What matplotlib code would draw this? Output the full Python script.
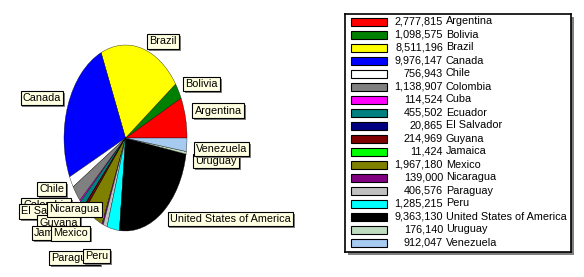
import matplotlib
matplotlib.use('Agg')
import matplotlib.pyplot as plt
import matplotlib.patheffects as pe
from matplotlib.patches import Rectangle
import numpy as np

# area (km2) of the countries of the Americas
countries = ['Argentina', 'Bolivia', 'Brazil', 'Canada', 'Chile', 'Colombia', 'Cuba',
             'Ecuador', 'El Salvador', 'Guyana', 'Jamaica', 'Mexico', 'Nicaragua',
             'Paraguay', 'Peru', 'United States of America', 'Uruguay', 'Venezuela']
areas = [2777815, 1098575, 8511196, 9976147, 756943, 1138907, 114524,
         455502, 20865, 214969, 11424, 1967180, 139000,
         406576, 1285215, 9363130, 176140, 912047]
colors = ['#ff0000', '#008000', '#ffff00', '#0000ff', '#ffffff', '#808080', '#ff00ff',
          '#008080', '#000080', '#800000', '#00ff00', '#808000', '#800080',
          '#c0c0c0', '#00ffff', '#000000', '#c0dcc0', '#a6caf0']

# extra shift (pixels, right / down) for the crowded labels
label_nudge = {
    'Colombia': (0, 4), 'Cuba': (0, 4), 'El Salvador': (0, -2),
    'Guyana': (0, 8), 'Jamaica': (-4, 17), 'Mexico': (1, 9),
    'Nicaragua': (4, -22), 'Paraguay': (0, 25), 'Peru': (2, 20),
    'Venezuela': (2, -3), 'Uruguay': (2, 1), 'Argentina': (2, 0),
}

W, H = 584, 277
plt.rcParams['font.family'] = ['Liberation Sans', 'DejaVu Sans']
plt.rcParams['font.size'] = 7.8
fig = plt.figure(figsize=(W / 100, H / 100), dpi=100)


def px_rect(x0, y0, x1, y1):
    return [x0 / W, 1 - y1 / H, (x1 - x0) / W, (y1 - y0) / H]


# pie (stretched into an ellipse)
ax = fig.add_axes(px_rect(64, 45, 187, 231))
wedges, _ = ax.pie(areas, colors=colors, startangle=0, counterclock=True,
                   wedgeprops=dict(edgecolor='black', linewidth=0.25))
ax.set_aspect('auto')
ax.set_xlim(-1, 1)
ax.set_ylim(-1, 1)
ax.axis('off')

k = 0.72  # pixels -> points
pad = 2
for w, name in zip(wedges, countries):
    ang = np.deg2rad((w.theta1 + w.theta2) / 2)
    c, s = np.cos(ang), np.sin(ang)
    dx = 5 + pad if c > 0 else -(5 + pad)
    dy = pad if s > 0 else -pad
    nx, ny = label_nudge.get(name, (0, 0))
    ann = ax.annotate(name, xy=(c, s), xytext=((dx + nx) * k, (dy - ny) * k),
                      textcoords='offset points',
                      ha='left' if c > 0 else 'right',
                      va='bottom' if s > 0 else 'top',
                      annotation_clip=False,
                      bbox=dict(boxstyle='square,pad=0.2', fc='#ffffe1', ec='black', lw=0.8))
    ann.get_bbox_patch().set_path_effects(
        [pe.SimplePatchShadow(offset=(1.4, -1.4), shadow_rgbFace='#808080', alpha=1), pe.Normal()])

# legend box
lax = fig.add_axes(px_rect(345, 14, 571, 252))
lax.set_xlim(0, 226)
lax.set_ylim(238, 0)
lax.set_xticks([])
lax.set_yticks([])
for sp in lax.spines.values():
    sp.set_linewidth(1.2)
    sp.set_color('black')
lax.patch.set_path_effects(
    [pe.SimplePatchShadow(offset=(2.2, -2.2), shadow_rgbFace='#808080', alpha=1), pe.Normal()])

for i, (name, val, col) in enumerate(zip(countries, areas, colors)):
    y = 7.5 + 13 * i
    lax.add_patch(Rectangle((6, y - 4), 36, 8, fc=col, ec='black', lw=0.8))
    lax.text(98, y, f'{val:,}', ha='right', va='center')
    lax.text(101, y, name, ha='left', va='center')

fig.savefig('out.png', dpi=100)
